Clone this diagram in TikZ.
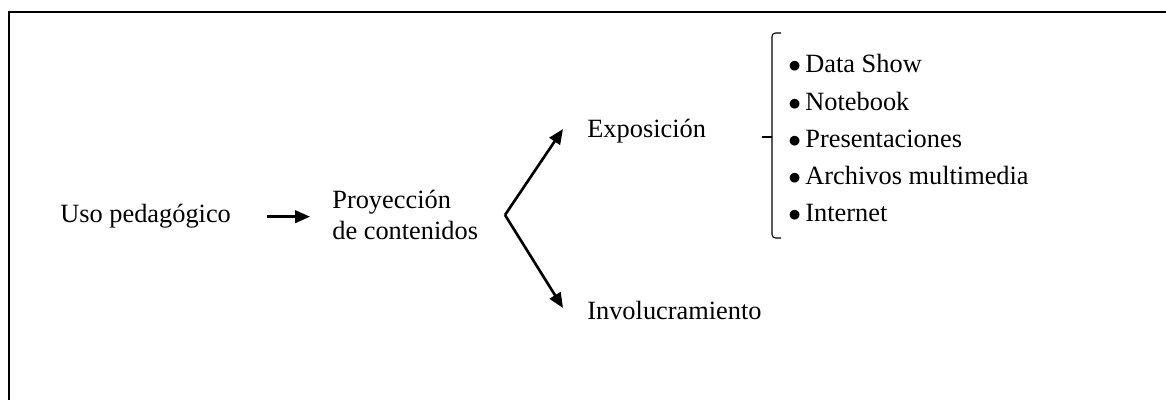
\documentclass[tikz,border=0pt]{standalone}
\usepackage{fontspec}
\setmainfont{Liberation Serif}
\usetikzlibrary{arrows.meta}

\begin{document}
\begin{tikzpicture}[font=\fontsize{15}{17.5}\selectfont,
      txt/.style={inner sep=0pt, anchor=base west},
      arr/.style={line width=1.5pt, -{Triangle[length=0.3cm, width=0.25cm]}}]
      \useasboundingbox (0,0) rectangle (23.32,8);
      % frame (only top and left edge show)
      \draw[line width=1.2pt] (0.18,-1) -- (0.18,7.76) -- (24,7.76);

      \node[txt] (uso) at (1.2,3.54) {Uso pedag\'ogico};
      \node[inner sep=0pt, anchor=west, align=left] (proy) at (6.64,3.7) {Proyecci\'on\\de contenidos};
      \draw[arr, shorten <=0.72cm, shorten >=0.44cm] (uso.east) -- (uso.east -| proy.west);

      \coordinate (fork) at (10.1,3.7);
      \node[txt] (expo) at (11.74,5.24) {Exposici\'on};
      \node[txt] (invol) at (11.74,1.6) {Involucramiento};
      \coordinate (expotip) at (11.26,5.42);
      \coordinate (involtip) at (11.26,1.84);
      \draw[arr] (fork) -- (expotip);
      \draw[arr] (fork) -- (involtip);

      % brace
      \draw[line width=0.6pt, rounded corners=2pt] (15.62,7.34) -- (15.44,7.34) -- (15.44,3.24) -- (15.62,3.24);
      \draw[line width=0.6pt] (15.44,5.26) -- (15.24,5.26);

      \foreach \txt [count=\i] in {Data Show, Notebook, Presentaciones, Archivos multimedia, Internet}
        \node[txt] (item\i) at (15.76,{6.54-0.745*(\i-1)}) {$\bullet$\,\txt};
\end{tikzpicture}
\end{document}
